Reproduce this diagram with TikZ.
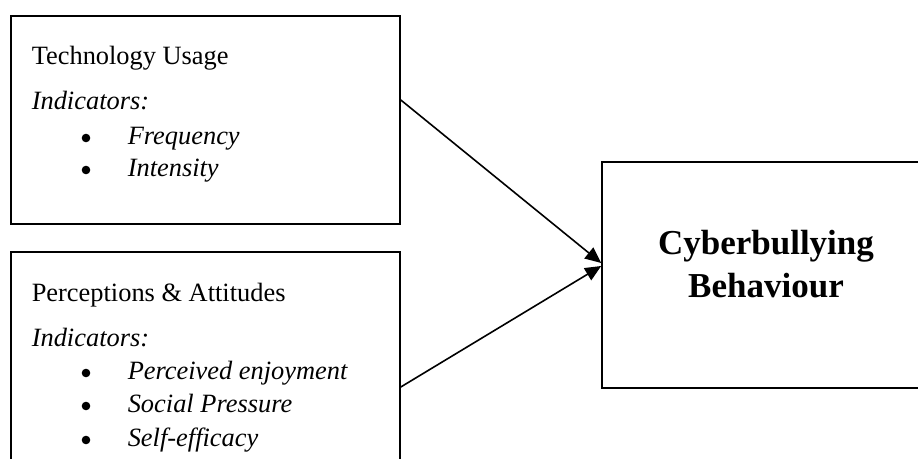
\documentclass[tikz,border=0pt]{standalone}
\usepackage{fontspec}
\setmainfont{Liberation Serif}
\usetikzlibrary{arrows.meta}

\begin{document}
\begin{tikzpicture}[x=0.5pt, y=-0.5pt, line width=0.8pt,
  box/.style = {draw, rectangle, inner sep=0pt},
  txt/.style = {anchor=base west, inner sep=0pt, font=\fontsize{13.2}{16}\selectfont},
  ind/.style = {txt, font=\fontsize{13.2}{16}\selectfont\itshape},
  dot/.style = {circle, fill, inner sep=0pt, minimum size=4.3pt},
  big/.style = {anchor=base, inner sep=0pt, font=\fontsize{17.5}{21}\selectfont\bfseries},
  link/.style = {-{Triangle[length=8pt, width=7pt]}}]
\useasboundingbox (0,0) rectangle (918,459);
\clip (0,0) rectangle (918,459);
% boxes
\node[box, minimum width=194.5pt, minimum height=104pt] (tech) at (205.5,120) {};
\node[box, minimum width=194.5pt, minimum height=114pt] (perc) at (205.5,366) {};
\node[box, minimum width=164pt, minimum height=113pt] (cyber) at (766,275) {};
% technology usage
\node[txt] (t1) at (31,65) {Technology Usage};
\node[ind] (t2) at (31,110) {Indicators:};
\node[dot] (t3) at (86,138) {};
\node[ind] (t4) at (127,145) {Frequency};
\node[dot] (t5) at (86,170) {};
\node[ind] (t6) at (127,177) {Intensity};
% perceptions and attitudes
\node[txt] (p1) at (31,302) {Perceptions \& Attitudes};
\node[ind] (p2) at (31,347) {Indicators:};
\node[dot] (p3) at (86,373) {};
\node[ind] (p4) at (127,380) {Perceived enjoyment};
\node[dot] (p5) at (86,406) {};
\node[ind] (p6) at (127,413) {Social Pressure};
\node[dot] (p7) at (86,440) {};
\node[ind] (p8) at (127,447) {Self-efficacy};
% outcome
\node[big] (c1) at (766,255) {Cyberbullying};
\node[big] (c2) at (766,298) {Behaviour};
% arrows
\draw[link] ([yshift=10pt]tech.east) -- ([yshift=6pt]cyber.west);
\draw[link] ([yshift=-10.5pt]perc.east) -- ([yshift=4.5pt]cyber.west);
\end{tikzpicture}
\end{document}
